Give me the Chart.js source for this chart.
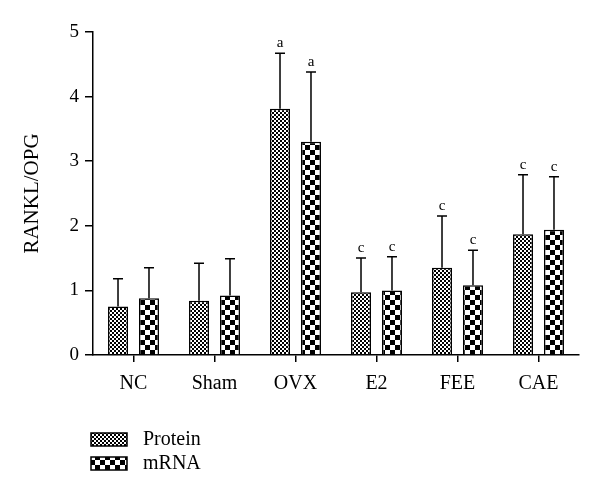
<!DOCTYPE html>
<html>
<head>
<meta charset="utf-8">
<script src="https://cdn.jsdelivr.net/npm/chart.js@4.4.1/dist/chart.umd.min.js"></script>
<style>
  html, body { margin: 0; padding: 0; background: #fff; }
  #wrap { width: 600px; height: 501px; }
</style>
</head>
<body>
<div id="wrap"><canvas id="myChart" width="600" height="501"></canvas></div>
<script>
const categories = ['NC', 'Sham', 'OVX', 'E2', 'FEE', 'CAE'];
const protein = [0.75, 0.84, 3.81, 0.97, 1.35, 1.87];
const proteinErr = [0.43, 0.58, 0.86, 0.53, 0.80, 0.92];
const mrna = [0.88, 0.92, 3.30, 1.00, 1.08, 1.94];
const mrnaErr = [0.47, 0.57, 1.08, 0.52, 0.54, 0.82];
const proteinMarks = ['', '', 'a', 'c', 'c', 'c'];
const mrnaMarks = ['', '', 'a', 'c', 'c', 'c'];
const yTicks = [0, 1, 2, 3, 4, 5];

const serif = '"Liberation Serif", "DejaVu Serif", serif';

function checker(cell) {
    const c = document.createElement('canvas');
    c.width = cell * 2;
    c.height = cell * 2;
    const g = c.getContext('2d');
    g.fillStyle = '#fff';
    g.fillRect(0, 0, cell * 2, cell * 2);
    g.fillStyle = '#000';
    g.fillRect(0, 0, cell, cell);
    g.fillRect(cell, cell, cell, cell);
    return document.getElementById('myChart').getContext('2d').createPattern(c, 'repeat');
}

const fineFill = checker(2);
const coarseFill = checker(5);

const errs = [proteinErr, mrnaErr];
const marks = [proteinMarks, mrnaMarks];

// error bars, significance letters and the legend
const extras = {
    id: 'extras',
    afterDatasetsDraw(chart) {
        const ctx = chart.ctx;
        const y = chart.scales.y;
        ctx.save();
        ctx.strokeStyle = '#000';
        ctx.lineWidth = 1.5;
        chart.data.datasets.forEach((ds, d) => {
            const meta = chart.getDatasetMeta(d);
            meta.data.forEach((bar, i) => {
                const top = y.getPixelForValue(ds.data[i] + errs[d][i]);
                ctx.beginPath();
                ctx.moveTo(bar.x, bar.y);
                ctx.lineTo(bar.x, top);
                ctx.moveTo(bar.x - 5, top);
                ctx.lineTo(bar.x + 5, top);
                ctx.stroke();
                if (marks[d][i]) {
                    ctx.fillStyle = '#000';
                    ctx.font = '15px ' + serif;
                    ctx.textAlign = 'center';
                    ctx.textBaseline = 'alphabetic';
                    ctx.fillText(marks[d][i], bar.x, top - 6);
                }
            });
        });

        // legend
        const items = [['Protein', fineFill, 433], ['mRNA', coarseFill, 457]];
        items.forEach(it => {
            ctx.fillStyle = it[1];
            ctx.fillRect(91, it[2], 36, 13);
            ctx.lineWidth = 1.5;
            ctx.strokeRect(91, it[2], 36, 13);
            ctx.fillStyle = '#000';
            ctx.font = '20px ' + serif;
            ctx.textAlign = 'left';
            ctx.textBaseline = 'middle';
            ctx.fillText(it[0], 143, it[2] + 7);
        });
        ctx.restore();
    }
};

const data = {
    labels: categories,
    datasets: [
        {
            label: 'Protein',
            data: protein,
            backgroundColor: fineFill,
            borderColor: '#000',
            borderWidth: 1.5,
            categoryPercentage: 0.765,
            barPercentage: 0.645
        },
        {
            label: 'mRNA',
            data: mrna,
            backgroundColor: coarseFill,
            borderColor: '#000',
            borderWidth: 1.5,
            categoryPercentage: 0.765,
            barPercentage: 0.645
        }
    ]
};

const config = {
    type: 'bar',
    data: data,
    options: {
        responsive: false,
        animation: false,
        layout: { padding: { top: 32, right: 21, left: 0, bottom: 0 } },
        plugins: {
            legend: { display: false },
            tooltip: { enabled: false }
        },
        scales: {
            x: {
                grid: { drawOnChartArea: false, drawTicks: true, tickLength: 7, color: '#000', lineWidth: 1.5, offset: false },
                border: { color: '#000', width: 1.5 },
                ticks: { color: '#000', font: { family: serif, size: 20 }, padding: 10 },
                afterFit(s) { s.height = 146; }
            },
            y: {
                min: 0,
                max: 5,
                afterBuildTicks(s) { s.ticks = yTicks.map(v => ({ value: v })); },
                grid: { drawOnChartArea: false, drawTicks: true, tickLength: 8, color: '#000', lineWidth: 1.5 },
                border: { color: '#000', width: 1.5 },
                ticks: { color: '#000', font: { family: serif, size: 19 }, padding: 6 },
                title: {
                    display: true,
                    text: 'RANKL/OPG',
                    color: '#000',
                    font: { family: serif, size: 21 },
                    padding: { top: 20, bottom: 0 }
                },
                afterFit(s) { s.width = 93; }
            }
        }
    },
    plugins: [extras]
};

const myChart = new Chart(document.getElementById('myChart'), config);
</script>
</body>
</html>
